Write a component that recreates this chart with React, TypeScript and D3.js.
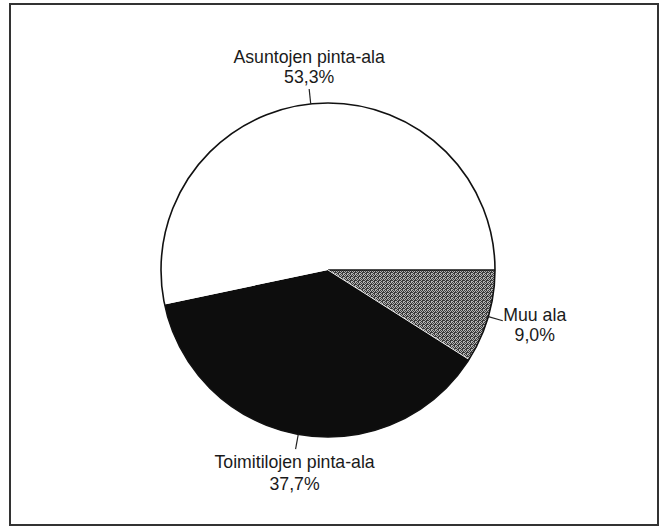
import React from "react";
import * as d3 from "d3";

const categories = ["Muu ala", "Toimitilojen pinta-ala", "Asuntojen pinta-ala"];
const values = [9.0, 37.7, 53.3];
const valueLabels = ["9,0%", "37,7%", "53,3%"];

const W = 666;
const H = 529;
const cx = 328;
const cy = 270;
const R = 167;
const fills = ["url(#dots)", "#0d0d0d", "#ffffff"];

const dotCells = [
  [0, 0], [2, 0], [1, 1], [3, 1], [0, 2], [3, 2], [1, 3], [2, 3], [2, 2],
];

export default function App() {
  const pie = d3
    .pie<number>()
    .sort(null)
    .value((d) => d)
    .startAngle(Math.PI / 2)
    .endAngle(Math.PI / 2 + 2 * Math.PI);
  const arcs = pie(values);
  const arcGen = d3.arc<d3.PieArcDatum<number>>().innerRadius(0).outerRadius(R);
  const pt = (a: number, r: number) => [cx + r * Math.sin(a), cy - r * Math.cos(a)];

  return (
    <svg width={W} height={H} style={{ position: "absolute", left: 0, top: 0 }}>
      <defs>
        <pattern id="dots" width={4} height={4} patternUnits="userSpaceOnUse">
          <rect width={4} height={4} fill="#b4b4b4" />
          {dotCells.map(([x, y], k) => (
            <rect key={k} x={x} y={y} width={1} height={1} fill="#3a3a3a" />
          ))}
        </pattern>
      </defs>
      <rect x={0} y={0} width={W} height={H} fill="#fff" />
      <rect x={10} y={4} width={648} height={521} fill="none" stroke="#333" strokeWidth={2} />
      <g transform={`translate(${cx},${cy})`}>
        {arcs.map((a, i) => (
          <path key={i} d={arcGen(a) || ""} fill={fills[i]} stroke="none" />
        ))}
      </g>
      {(() => {
        const p0 = pt(arcs[0].startAngle, R);
        const p1 = pt(arcs[1].startAngle, R);
        return (
          <g>
            <line x1={cx} y1={cy} x2={p0[0]} y2={p0[1]} stroke="#111" strokeWidth={1.3} />
            <line x1={cx} y1={cy} x2={p1[0]} y2={p1[1]} stroke="#eee" strokeWidth={1} />
          </g>
        );
      })()}
      <circle cx={cx} cy={cy} r={R} fill="none" stroke="#111" strokeWidth={1.6} />
      {arcs.map((a, i) => {
        const mid = (a.startAngle + a.endAngle) / 2;
        const p1 = pt(mid, R);
        const p2 = pt(mid, R + 15);
        let tx = p2[0];
        let ty1 = 0;
        let ty2 = 0;
        if (i === 2) {
          ty1 = p2[1] - 26;
          ty2 = p2[1] - 6;
        } else if (i === 1) {
          tx = p2[0] - 1;
          ty1 = p2[1] + 19;
          ty2 = p2[1] + 41;
        } else {
          tx = p2[0] + 32;
          ty1 = p2[1] + 0;
          ty2 = p2[1] + 20;
        }
        return (
          <g key={i}>
            <line x1={p1[0]} y1={p1[1]} x2={p2[0]} y2={p2[1]} stroke="#222" strokeWidth={1.2} />
            <text x={tx} y={ty1} textAnchor="middle" fontFamily="Liberation Sans, Arial, sans-serif" fontSize={17.7} fill="#1a1a1a">
              {categories[i]}
            </text>
            <text x={tx} y={ty2} textAnchor="middle" fontFamily="Liberation Sans, Arial, sans-serif" fontSize={17.7} fill="#1a1a1a">
              {valueLabels[i]}
            </text>
          </g>
        );
      })}
    </svg>
  );
}
